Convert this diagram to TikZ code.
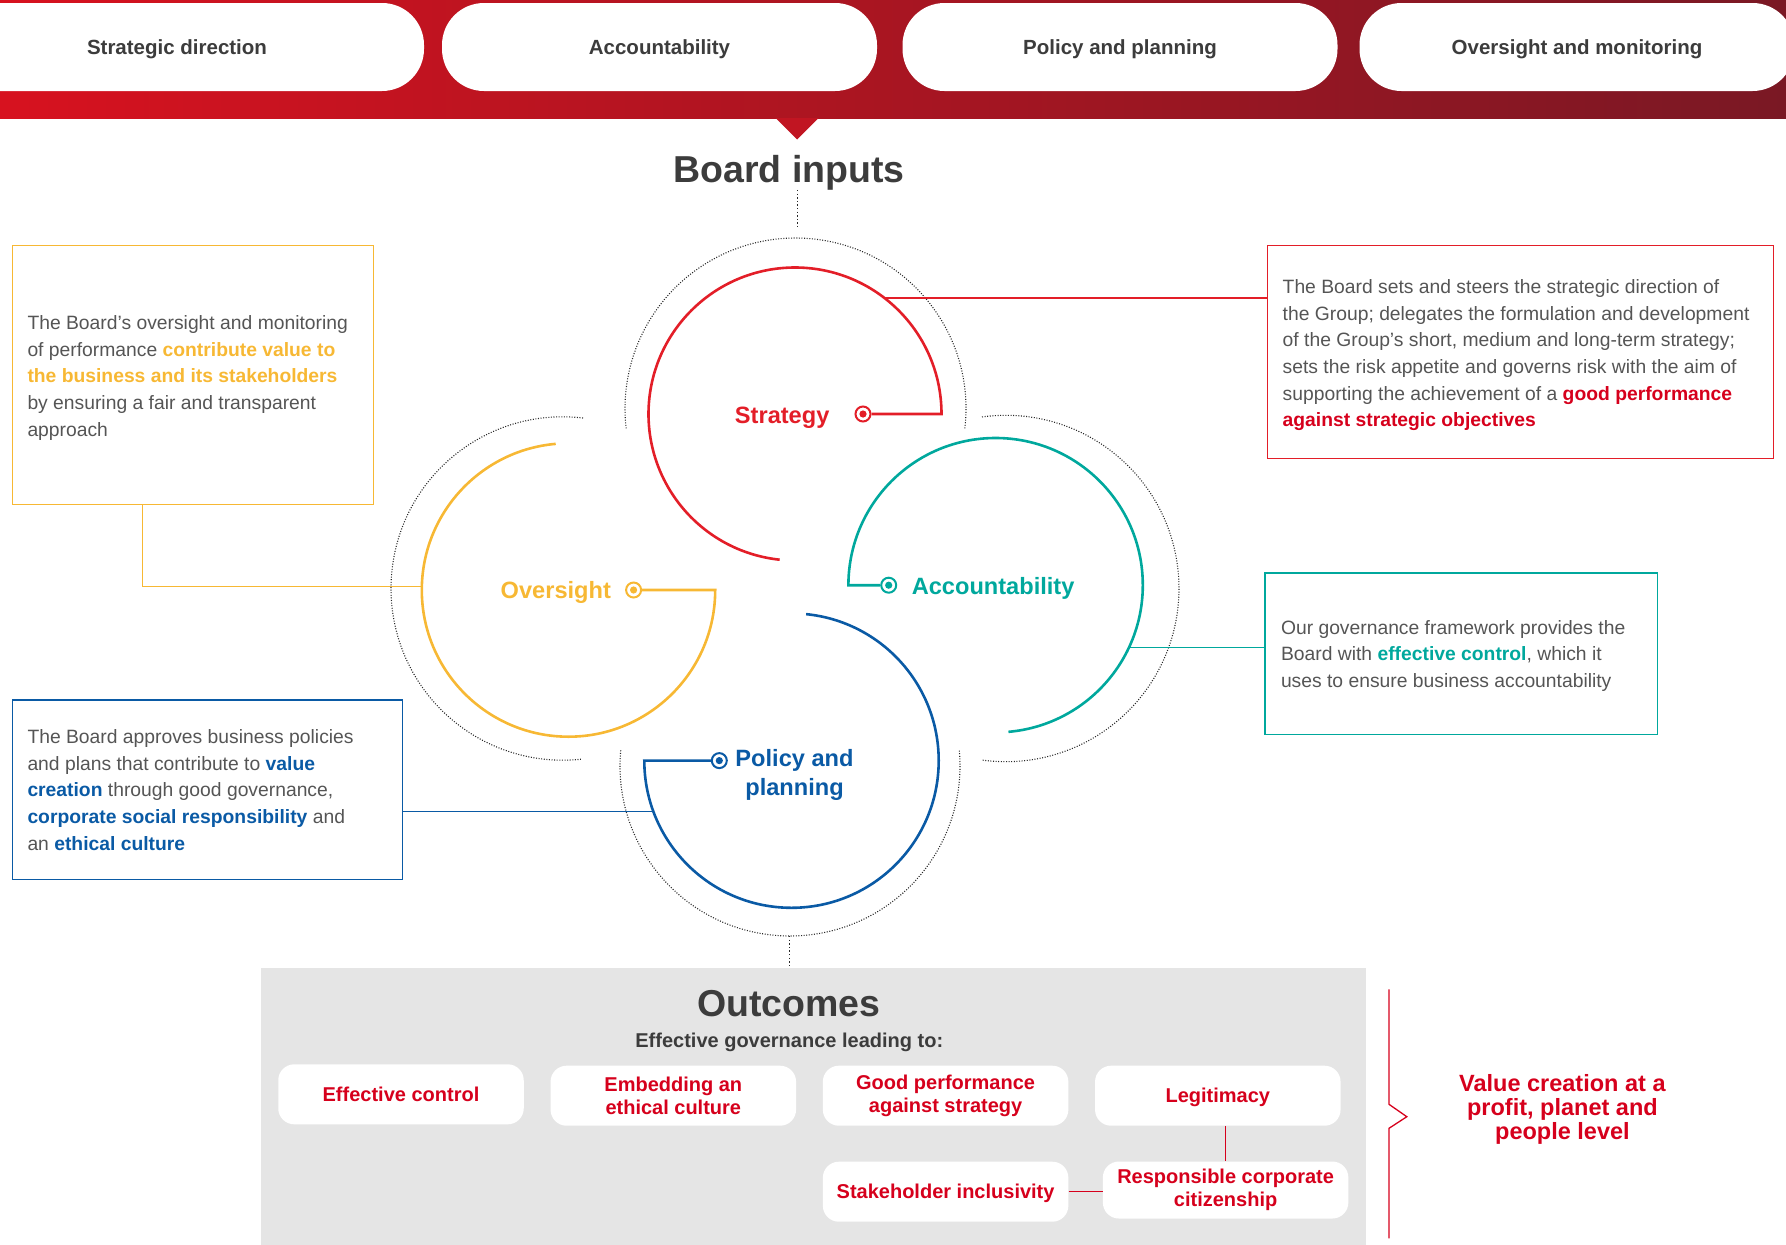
\documentclass[tikz,border=0pt]{standalone}
\usepackage{fontspec}
\setmainfont{Liberation Sans}
\usetikzlibrary{calc}
\definecolor{bandL}{RGB}{215,18,31}
\definecolor{bandM}{RGB}{190,22,34}
\definecolor{bandR}{RGB}{122,24,36}
\definecolor{tri}{RGB}{193,21,34}
\definecolor{hd}{RGB}{60,60,60}
\definecolor{bodytxt}{RGB}{85,85,85}
\definecolor{cred}{RGB}{227,30,40}
\definecolor{tred}{RGB}{214,0,28}
\definecolor{cyel}{RGB}{247,184,52}
\definecolor{cteal}{RGB}{0,168,157}
\definecolor{cblue}{RGB}{10,90,165}
\definecolor{outbg}{RGB}{229,229,229}
\definecolor{dotc}{RGB}{40,40,40}
\begin{document}
\begin{tikzpicture}[x=1pt,y=1pt,
  hpill/.style={fill=white, rounded corners=42pt, minimum height=88pt, inner sep=0pt, text height=15pt, text depth=0pt, text=hd, font=\fontsize{20.5}{24}\selectfont\bfseries},
  opill/.style={fill=white, rounded corners=16pt, minimum width=245.5pt, minimum height=60pt, inner sep=0pt, text=tred, align=center, font=\fontsize{20}{23.5}\selectfont\bfseries},
  oneline/.style={text height=14.3pt, text depth=0pt},
  infobox/.style={draw=#1, line width=1.4pt, inner sep=0pt, anchor=north west},
  bodytext/.style={anchor=base west, inner sep=0pt, align=left, text=bodytxt, font=\fontsize{19.3}{26.7}\selectfont},
  ring/.style={circle, draw=#1, line width=2pt, minimum size=15pt, inner sep=0pt, fill=white},
  cdot/.style={circle, fill=#1, minimum size=7.2pt, inner sep=0pt},
  loop/.style={draw=#1, line width=2.6pt},
  conn/.style={draw=#1, line width=1.4pt},
  dotarc/.style={draw=dotc, line width=1.1pt, dash pattern=on 1pt off 1.6pt},
  vdot/.style={draw=dotc, line width=1.5pt, dash pattern=on 1.4pt off 2.2pt},
  clabel/.style={inner sep=0pt, font=\fontsize{23.6}{28.5}\selectfont\bfseries, text=#1},
  heading/.style={inner sep=0pt, anchor=base, text=hd, font=\fontsize{37.5}{44}\selectfont\bfseries},
]
\useasboundingbox (0,0) rectangle (1786,-1245);
\clip (0,0) rectangle (1786,-1245);

% ---------- header band ----------
\shade[left color=bandL, middle color=bandM, right color=bandR] (0,0) rectangle (1786,-118.5);
\fill[tri] (775.5,-118) -- (818.5,-118) -- (797,-139.5) -- cycle;
\node[hpill, minimum width=494pt] (h1) at (177,-47) {Strategic direction};
\node[hpill, minimum width=435pt] (h2) at (659.5,-47) {Accountability};
\node[hpill, minimum width=435pt] (h3) at (1120,-47) {Policy and planning};
\node[hpill, minimum width=435pt] (h4) at (1577,-47) {Oversight and monitoring};

% ---------- Board inputs ----------
\node[heading] (bi) at (789,-182) {Board inputs};
\coordinate (bitop) at (797.5,-227);
\draw[vdot] (bi.south -| bitop) -- (bitop);

% ---------- circle centres ----------
\coordinate (S) at (795,-414);
\coordinate (O) at (568.5,-590);
\coordinate (A) at (995.6,-585.2);
\coordinate (P) at (791.5,-760.6);

% ---------- dotted outer arcs ----------
\draw[dotarc] (795.5,-408.5) ++(-6.7:170.5pt) arc[start angle=-6.7, end angle=186.7, radius=170.5pt];
\draw[dotarc] (562.7,-588.5) ++(83.2:171.7pt) arc[start angle=83.2, end angle=276.1, radius=171.7pt];
\draw[dotarc] (1005.8,-588.5) ++(97.9:173.2pt) arc[start angle=97.9, end angle=-97.9, radius=173.2pt];
\draw[dotarc] (790,-766) ++(174.7:170pt) arc[start angle=174.7, end angle=365.3, radius=170pt];

% ---------- markers ----------
\node[ring=cred] (mS) at (863,-414) {};
\node[ring=cyel] (mO) at (633.6,-590) {};
\node[ring=cteal] (mA) at (888.7,-585.2) {};
\node[ring=cblue] (mP) at (719.3,-760.6) {};
\node[cdot=cred] (dS) at (mS) {};
\node[cdot=cyel] (dO) at (mO) {};
\node[cdot=cteal] (dA) at (mA) {};
\node[cdot=cblue] (dP) at (mP) {};

% ---------- coloured loops ----------
\draw[loop=cred] (mS.east) -- (941.5,-414) arc[start angle=0, end angle=264, radius=146.5pt];
\draw[loop=cyel] (mO.east) -- (715.2,-590) arc[start angle=360, end angle=95, radius=146.7pt];
\draw[loop=cteal] (mA.west) -- (848.4,-585.2) arc[start angle=180, end angle=-85, radius=147.2pt];
\draw[loop=cblue] (mP.west) -- (644.3,-760.6) arc[start angle=180, end angle=444.3, radius=147.2pt];

% ---------- loop labels ----------
\node[clabel=cred, anchor=base east] (lS) at (829.6,-423.3) {Strategy};
\node[clabel=cyel, anchor=base east] (lO) at (611.1,-598.2) {Oversight};
\node[clabel=cteal, anchor=base west] (lA) at (911.6,-594.7) {Accountability};
\node[clabel=cblue, anchor=base, align=center] (lP) at (794.5,-795) {Policy and\\planning};

% ---------- info boxes ----------
\node[infobox=cyel, minimum width=361.3pt, minimum height=259pt] (ybox) at (11.7,-245) {};
\node[infobox=cred, minimum width=506pt, minimum height=212.5pt] (rbox) at (1266.5,-245) {};
\node[infobox=cteal, minimum width=392.4pt, minimum height=161.4pt] (tbox) at (1264.4,-572.3) {};
\node[infobox=cblue, minimum width=390pt, minimum height=179.7pt] (bbox) at (11.7,-699.3) {};

\node[bodytext] (yt) at (27.3,-436.1) {The Board’s oversight and monitoring\\of performance {\bfseries\color{cyel}contribute value to}\\{\bfseries\color{cyel}the business and its stakeholders}\\by ensuring a fair and transparent\\approach};
\node[bodytext] (rt) at (1282.5,-426.8) {The Board sets and steers the strategic direction of\\the Group; delegates the formulation and development\\of the Group’s short, medium and long-term strategy;\\sets the risk appetite and governs risk with the aim of\\supporting the achievement of a {\bfseries\color{tred}good performance}\\{\bfseries\color{tred}against strategic objectives}};
\node[bodytext] (tt) at (1280.8,-687.4) {Our governance framework provides the\\Board with {\bfseries\color{cteal}effective control}, which it\\uses to ensure business accountability};
\node[bodytext] (bt) at (27.3,-850.1) {The Board approves business policies\\and plans that contribute to {\bfseries\color{cblue}value}\\{\bfseries\color{cblue}creation} through good governance,\\{\bfseries\color{cblue}corporate social responsibility} and\\an {\bfseries\color{cblue}ethical culture}};

% ---------- connectors ----------
\path (S) ++(52.35:146.5pt) coordinate (rc);
\draw[conn=cred] (rc) -- (rc -| rbox.west);
\path (A) ++(-24.95:147.2pt) coordinate (tc);
\draw[conn=cteal] (tc) -- (tc -| tbox.west);
\path (P) ++(200.3:147.2pt) coordinate (bc);
\draw[conn=cblue] (bc) -- (bc -| bbox.east);
\path (O) ++(178.7:146.7pt) coordinate (yc);
\coordinate (yk) at (142.7,-504);
\draw[conn=cyel] (yk) |- (yc);

% ---------- outcomes ----------
\fill[outbg] (261,-968) rectangle (1366,-1250);
\coordinate (otop) at (789.3,-968);
\path (790,-766) ++(270:170pt) coordinate (pbot);
\draw[vdot] (pbot -| otop) -- (otop);
\node[heading] (oh) at (788.8,-1016.7) {Outcomes};
\node[inner sep=0pt, anchor=base, text=hd, font=\fontsize{20}{24}\selectfont\bfseries] (os) at (789.3,-1047.7) {Effective governance leading to:};

\node[opill, oneline] (o1) at (401,-1094.3) {Effective control};
\node[opill] (o2) at (673.3,-1095.7) {Embedding an\\ethical culture};
\node[opill] (o3) at (945.6,-1095.7) {Good performance\\against strategy};
\node[opill, oneline] (o4) at (1217.8,-1095.7) {Legitimacy};
\node[opill, oneline] (o5) at (945.6,-1191.7) {Stakeholder inclusivity};
\node[opill, minimum height=57pt] (o6) at (1225.6,-1190) {Responsible corporate\\citizenship};
\draw[conn=tred] (o4.south -| o6.north) -- (o6.north);
\draw[conn=tred] (o5.east) -- (o5.east -| o6.west);

% ---------- bracket and value creation ----------
\coordinate (bk1) at (1389,-989.3);
\coordinate (bk2) at (1389,-1238.3);
\draw[conn=tred, line width=1.3pt] (bk1) -- (1389,-1104.3) -- (1406.8,-1116.7) -- (1389,-1128.3) -- (bk2);
\node[inner sep=0pt, anchor=base, align=center, text=tred, font=\fontsize{23.5}{24}\selectfont\bfseries] (vc) at (1562.4,-1139.7) {Value creation at a\\profit, planet and\\people level};
\end{tikzpicture}
\end{document}
